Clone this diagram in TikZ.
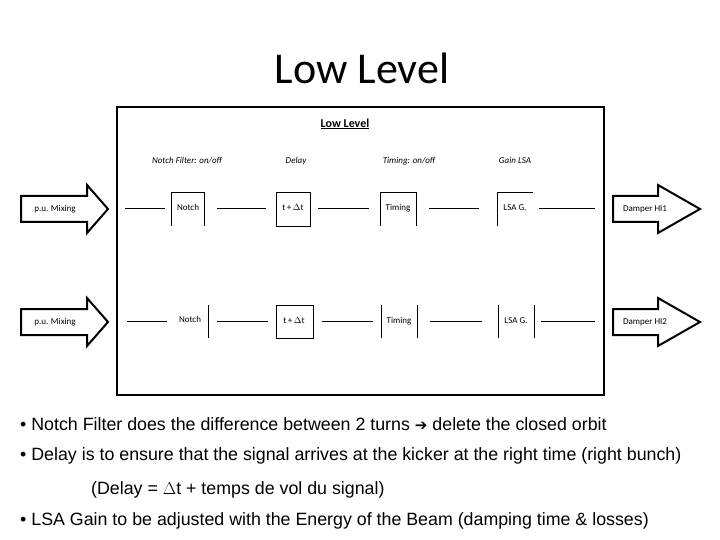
\documentclass[tikz,border=0pt]{standalone}
\usepackage{fontspec}
\setmainfont{Carlito}
\newfontfamily\arial{Liberation Sans}
\newfontfamily\dejavu{DejaVu Sans}
\begin{document}
\begin{tikzpicture}[x=1pt,y=-1pt,
  lbl/.style={font=\fontsize{9}{10}\selectfont\itshape,text height=6.5pt,text depth=2pt},
  bx/.style={font=\fontsize{9}{10}\selectfont,inner sep=0pt,text height=6.5pt,text depth=2pt},
  wire/.style={line width=0.8pt},
  bar/.style={line width=0.8pt},
  bul/.style={anchor=west,font=\arial\fontsize{17.8}{20}\selectfont,inner sep=0pt}]
\useasboundingbox (0,0) rectangle (720,540);
\node (title) at (362,68) {\fontsize{44}{50}\selectfont Low Level};
\draw[line width=2.5pt] (117,107) rectangle (604,395);
\node (sub) at (345,124) {\fontsize{12}{14}\selectfont\bfseries\underline{Low Level}};
\node[lbl] (l1) at (187,161) {Notch Filter: on/off};
\node[lbl] (l2) at (296,161) {Delay};
\node[lbl] (l3) at (409,161) {Timing: on/off};
\node[lbl] (l4) at (515,161) {Gain LSA};
% row 1
\node[bx] (n1) at (188,208) {Notch};
\node[bx] (d1) at (293,208) {t\,+\,$\Delta$t};
\node[bx] (t1) at (398,208) {Timing};
\node[bx] (g1) at (515,208) {LSA G.};
\draw[bar] (171,226)--(171,192)--(204,192)--(204,226);
\draw[bar] (276,192) rectangle (310,226);
\draw[bar] (380,226)--(380,192)--(416,192)--(416,226);
\draw[bar] (497,226)--(497,192)--(533,192);
\coordinate (a1) at (125,208); \coordinate (a2) at (165,208);
\coordinate (b1) at (217,208); \coordinate (b2) at (266,208);
\coordinate (c1) at (318,208); \coordinate (c2) at (369,208);
\coordinate (e1) at (429,208); \coordinate (e2) at (479,208);
\coordinate (f1) at (539,208); \coordinate (f2) at (595,208);
\draw[wire] (a1)--(a2) (b1)--(b2) (c1)--(c2) (e1)--(e2) (f1)--(f2);
% row 2
\node[bx] (n2) at (190,320) {Notch};
\node[bx] (d2) at (294,321) {t\,+\,$\Delta$t};
\node[bx] (t2) at (399,321) {Timing};
\node[bx] (g2) at (516,321) {LSA G.};
\draw[bar] (208,305)--(208,338);
\draw[bar] (276,305) rectangle (313,338);
\draw[bar] (381,305)--(381,338) (417,305)--(417,338);
\draw[bar] (498,305)--(498,338) (534,305)--(534,338);
\coordinate (a3) at (127,321); \coordinate (a4) at (167,321);
\coordinate (b3) at (217,321); \coordinate (b4) at (268,321);
\coordinate (c3) at (322,321); \coordinate (c4) at (373,321);
\coordinate (e3) at (430,321); \coordinate (e4) at (482,321);
\coordinate (f3) at (541,321); \coordinate (f4) at (595,321);
\draw[wire] (a3)--(a4) (b3)--(b4) (c3)--(c4) (e3)--(e4) (f3)--(f4);
% arrows
\foreach \y/\n in {209/1,322/2}{
  \draw[line width=2pt,line join=miter] (21,\y-13)--(87,\y-13)--(87,\y-24)--(108,\y)--(87,\y+24)--(87,\y+13)--(21,\y+13)--cycle;
  \node[bx] (pu\n) at (55,\y) {p.u. Mixing};
  \draw[line width=2pt,line join=miter] (613,\y-13)--(658,\y-13)--(658,\y-24)--(700,\y)--(658,\y+24)--(658,\y+13)--(613,\y+13)--cycle;
  \node[bx] (dm\n) at (645,\y) {Damper HI\n};
}
% bullets
\node[bul] (t1b) at (20,424) {• Notch Filter does the difference between 2 turns {\dejavu\fontsize{15}{17}\selectfont ➔} delete the closed orbit};
\node[bul] (t2b) at (20,456) {• Delay is to ensure that the signal arrives at the kicker at the right time (right bunch)};
\node[bul] (t3b) at (91,490) {(Delay = $\Delta$t + temps de vol du signal)};
\node[bul] (t4b) at (20,521) {• LSA Gain to be adjusted with the Energy of the Beam (damping time \& losses)};
\end{tikzpicture}
\end{document}
